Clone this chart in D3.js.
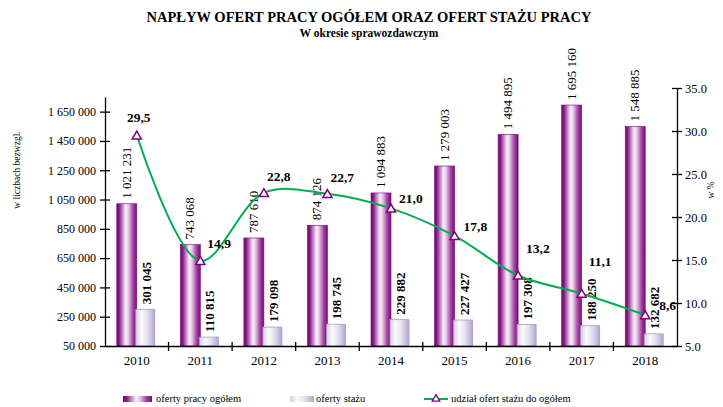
<!DOCTYPE html>
<html>
<head>
<meta charset="utf-8">
<script src="https://cdn.jsdelivr.net/npm/d3@7"></script>
<style>
  body { margin: 0; background: #fff; }
  svg { display: block; font-family: "Liberation Serif", "Times New Roman", serif; }
</style>
</head>
<body>
<svg width="723" height="407"></svg>
<script>
// data
const years = ['2010', '2011', '2012', '2013', '2014', '2015', '2016', '2017', '2018'];
const ofertyPracy = [1021231, 743068, 787610, 874126, 1094883, 1279003, 1494895, 1695160, 1548885];
const ofertyStazu = [301045, 110815, 179098, 198745, 229882, 227427, 197308, 188250, 132682];
const udzial = [29.5, 14.9, 22.8, 22.7, 21.0, 17.8, 13.2, 11.1, 8.6];
const leftTicks = [50000, 250000, 450000, 650000, 850000, 1050000, 1250000, 1450000, 1650000];
const rightTicks = [5, 10, 15, 20, 25, 30, 35];

// label nudges for the percentage labels (dx, dy from the marker)
const pctNudge = [[2, -13], [7, -13], [3, -12], [3, -12], [8, -5], [9, -5], [8, -22], [7, -28], [14, -5]];

const svg = d3.select('svg');
const left = 105, right = 677, bottom = 346;

const x = d3.scaleBand().domain(years).range([left, right]);
const yL = d3.scaleLinear().domain([50000, 1750000]).range([bottom, 97]);
const yR = d3.scaleLinear().domain([5, 35]).range([bottom, 88]);

const fmt = v => d3.format(',')(v).replace(/,/g, ' ');

// gradients
const defs = svg.append('defs');
const g1 = defs.append('linearGradient').attr('id', 'gPurple');
[[0, '#760676'], [0.12, '#861a86'], [0.3, '#c890c8'], [0.45, '#fbeefb'], [0.58, '#e6c8e6'], [0.8, '#a448a4'], [1, '#780878']]
  .forEach(s => g1.append('stop').attr('offset', s[0]).attr('stop-color', s[1]));
const g2 = defs.append('linearGradient').attr('id', 'gLight');
[[0, '#d6cce6'], [0.3, '#fbfafd'], [0.6, '#e6e0f0'], [1, '#b4a6d0']]
  .forEach(s => g2.append('stop').attr('offset', s[0]).attr('stop-color', s[1]));

// titles
svg.append('text').attr('x', 369).attr('y', 22).attr('text-anchor', 'middle')
  .attr('font-size', 14.5).attr('font-weight', 'bold')
  .text('NAPŁYW OFERT  PRACY OGÓŁEM ORAZ OFERT STAŻU PRACY');
svg.append('text').attr('x', 369).attr('y', 37).attr('text-anchor', 'middle')
  .attr('font-size', 11.5).attr('font-weight', 'bold')
  .text('W okresie sprawozdawczym');

// bars
const chart = svg.append('g');
chart.selectAll('.bp').data(years).enter().append('rect')
  .attr('x', d => x(d) + x.bandwidth() / 2 - 20)
  .attr('y', (d, i) => yL(ofertyPracy[i]))
  .attr('width', 20)
  .attr('height', (d, i) => bottom - yL(ofertyPracy[i]))
  .attr('fill', 'url(#gPurple)')
  .attr('stroke', '#7a087a').attr('stroke-width', 0.6);

chart.selectAll('.bs').data(years).enter().append('rect')
  .attr('x', d => x(d) + x.bandwidth() / 2 - 1)
  .attr('y', (d, i) => yL(ofertyStazu[i]))
  .attr('width', 19)
  .attr('height', (d, i) => bottom - yL(ofertyStazu[i]))
  .attr('fill', 'url(#gLight)')
  .attr('stroke', '#a898c8').attr('stroke-width', 0.8);

// bar labels
chart.selectAll('.lp').data(years).enter().append('text')
  .attr('transform', (d, i) => `translate(${x(d) + x.bandwidth() / 2 - 6},${yL(ofertyPracy[i]) - 5}) rotate(-90)`)
  .attr('font-size', 13)
  .text((d, i) => fmt(ofertyPracy[i]));

chart.selectAll('.ls').data(years).enter().append('text')
  .attr('transform', (d, i) => `translate(${x(d) + x.bandwidth() / 2 + 14},${yL(ofertyStazu[i]) - 5}) rotate(-90)`)
  .attr('font-size', 13).attr('font-weight', 'bold')
  .text((d, i) => fmt(ofertyStazu[i]));

// axes
const axL = svg.append('g').attr('transform', `translate(${left},0)`)
  .call(d3.axisLeft(yL).tickValues(leftTicks).tickSize(0).tickPadding(9).tickFormat(fmt));
axL.select('.domain').attr('stroke', '#000').attr('stroke-width', 1.3);
axL.selectAll('.tick text').attr('font-size', 12).attr('font-family', 'Liberation Serif').attr('fill', '#000');
axL.selectAll('.tick').append('line').attr('x1', -5).attr('x2', 5).attr('stroke', '#000').attr('stroke-width', 1.3);

const axR = svg.append('g').attr('transform', `translate(${right},0)`)
  .call(d3.axisRight(yR).tickValues(rightTicks).tickSize(0).tickPadding(8).tickFormat(d3.format('.1f')));
axR.select('.domain').attr('stroke', '#000').attr('stroke-width', 1.3);
axR.selectAll('.tick text').attr('font-size', 12.5).attr('font-family', 'Liberation Serif').attr('fill', '#000');
axR.selectAll('.tick').append('line').attr('x1', -5).attr('x2', 5).attr('stroke', '#000').attr('stroke-width', 1.3);

const axB = svg.append('g').attr('transform', `translate(0,${bottom})`)
  .call(d3.axisBottom(x).tickSize(0).tickPadding(10));
axB.select('.domain').attr('stroke', '#000').attr('stroke-width', 1.3);
axB.selectAll('.tick text').attr('font-size', 13).attr('font-family', 'Liberation Serif').attr('fill', '#000');
axB.selectAll('.sep').data(years.slice(1)).enter().append('line')
  .attr('x1', d => x(d)).attr('x2', d => x(d)).attr('y1', -4).attr('y2', 5)
  .attr('stroke', '#000').attr('stroke-width', 1.3);

// axis titles
svg.append('text').attr('transform', 'translate(20,170) rotate(-90)').attr('text-anchor', 'middle')
  .attr('font-size', 9.5).text('w liczbach bezwzgl.');
svg.append('text').attr('transform', 'translate(714,190) rotate(-90)').attr('text-anchor', 'middle')
  .attr('font-size', 9.5).text('w %');

// line
const cx = d => x(d) + x.bandwidth() / 2;
const line = d3.line().x((d, i) => cx(years[i])).y(d => yR(d)).curve(d3.curveCatmullRom.alpha(0.5));
chart.append('path').datum(udzial).attr('d', line)
  .attr('fill', 'none').attr('stroke', '#00ad4e').attr('stroke-width', 2);

const tri = d3.symbol().type(d3.symbolTriangle).size(36);
chart.selectAll('.mk').data(udzial).enter().append('path')
  .attr('d', tri)
  .attr('transform', (d, i) => `translate(${cx(years[i])},${yR(d) + 1})`)
  .attr('fill', '#fff').attr('stroke', '#800080').attr('stroke-width', 1.5);

chart.selectAll('.lu').data(udzial).enter().append('text')
  .attr('x', (d, i) => cx(years[i]) + pctNudge[i][0])
  .attr('y', (d, i) => yR(d) + pctNudge[i][1])
  .attr('font-size', 13.5).attr('font-weight', 'bold')
  .attr('text-anchor', (d, i) => i === 0 ? 'middle' : 'start')
  .text(d => d3.format('.1f')(d).replace('.', ','));

// legend
const lg = svg.append('g').attr('transform', 'translate(0,400)');
lg.append('rect').attr('x', 123).attr('y', -4).attr('width', 29).attr('height', 6).attr('fill', 'url(#gPurple)');
lg.append('text').attr('x', 156).attr('y', 2).attr('font-size', 10.5).text('oferty pracy ogółem');
lg.append('rect').attr('x', 290).attr('y', -4).attr('width', 24).attr('height', 6).attr('fill', 'url(#gLight)');
lg.append('text').attr('x', 316).attr('y', 2).attr('font-size', 10.5).text('oferty stażu');
lg.append('line').attr('x1', 424).attr('x2', 448).attr('y1', -1).attr('y2', -1).attr('stroke', '#00ad4e').attr('stroke-width', 2);
lg.append('path').attr('d', d3.symbol().type(d3.symbolTriangle).size(25)).attr('transform', 'translate(436,-1)')
  .attr('fill', '#fff').attr('stroke', '#800080').attr('stroke-width', 1.3);
lg.append('text').attr('x', 451).attr('y', 2).attr('font-size', 10.5).text('udział ofert stażu do ogółem');
</script>
</body>
</html>
